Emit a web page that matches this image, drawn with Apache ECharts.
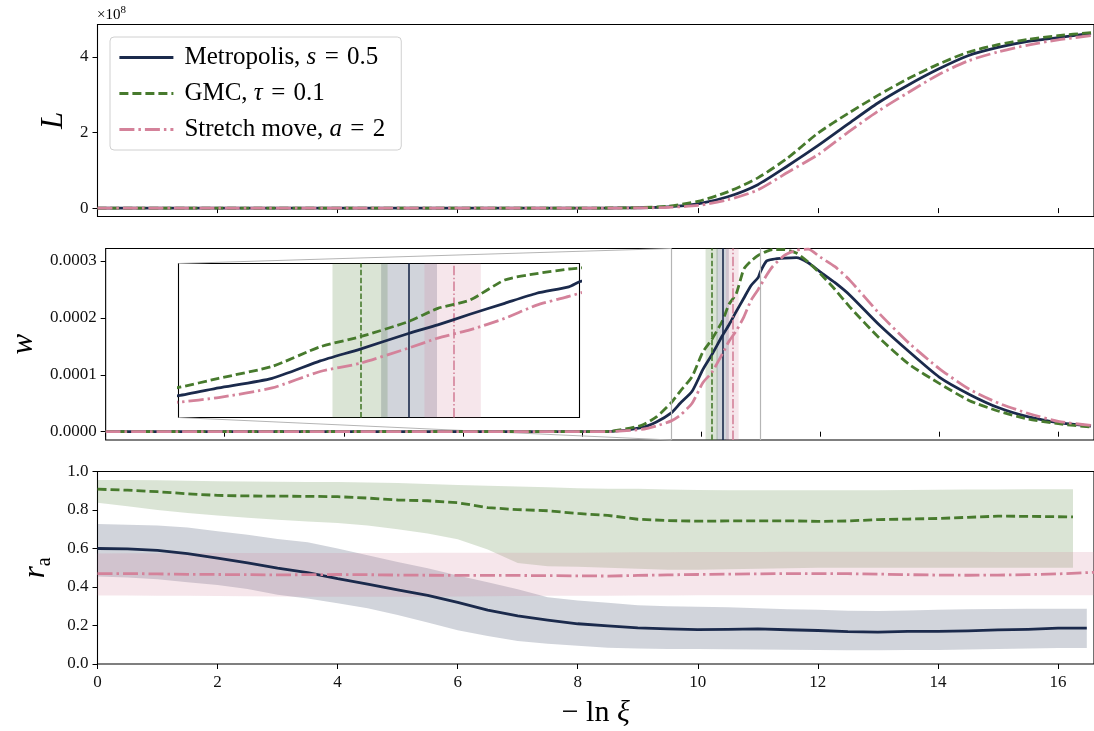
<!DOCTYPE html>
<html><head><meta charset="utf-8">
<script src="https://cdn.jsdelivr.net/npm/echarts@6/dist/echarts.min.js"></script>
<style>html,body{margin:0;padding:0;background:#fff}#c{width:1094px;height:731px}</style>
</head><body><div id="c"></div>
<script>
// ================= DATA =================
// x = -ln xi
const xTicks = [0, 2, 4, 6, 8, 10, 12, 14, 16];

// Panel 1: L (units of 1e8)
const L_x       = [0, 8, 8.5, 9, 9.5, 10, 10.5, 11, 11.5, 12, 12.5, 13, 13.5, 14, 14.5, 15, 15.5, 16, 16.55];
const L_metro   = [0, 0, 0.002, 0.008, 0.03, 0.11, 0.30, 0.62, 1.12, 1.65, 2.22, 2.78, 3.25, 3.67, 4.03, 4.25, 4.41, 4.51, 4.62];
const L_gmc     = [0, 0, 0.003, 0.012, 0.05, 0.18, 0.43, 0.80, 1.33, 1.98, 2.50, 2.98, 3.42, 3.80, 4.12, 4.32, 4.46, 4.56, 4.64];
const L_stretch = [0, 0, 0.001, 0.004, 0.02, 0.07, 0.22, 0.48, 0.95, 1.41, 2.00, 2.56, 3.05, 3.52, 3.89, 4.13, 4.31, 4.45, 4.56];
const L_ticks = [0, 2, 4];

// Panel 2: w (units of 1e-4)
const w_x       = [0, 8, 8.5, 9, 9.25, 9.5, 9.65, 9.85, 10.03, 10.18, 10.36, 10.47, 10.59, 10.72, 10.84, 10.96, 11.0, 11.1, 11.2, 11.4, 11.6, 11.8, 12.0, 12.25, 12.5, 13.0, 13.5, 14.0, 14.5, 15.0, 15.5, 16.0, 16.55];
const w_metro   = [0, 0, 0.005, 0.07, 0.17, 0.33, 0.50, 0.71, 1.09, 1.35, 1.69, 1.88, 2.11, 2.35, 2.57, 2.71, 2.82, 3.00, 3.03, 3.05, 3.06, 2.97, 2.81, 2.62, 2.40, 1.87, 1.40, 0.96, 0.66, 0.42, 0.26, 0.16, 0.10];
const w_gmc     = [0, 0, 0.010, 0.11, 0.26, 0.51, 0.71, 0.97, 1.40, 1.62, 1.95, 2.24, 2.42, 2.86, 3.00, 3.10, 3.12, 3.17, 3.20, 3.20, 3.14, 2.98, 2.78, 2.50, 2.19, 1.64, 1.18, 0.85, 0.55, 0.36, 0.22, 0.14, 0.08];
const w_stretch = [0, 0, 0.003, 0.04, 0.10, 0.19, 0.29, 0.50, 0.86, 1.04, 1.37, 1.59, 1.77, 2.02, 2.31, 2.50, 2.57, 2.75, 2.90, 3.10, 3.19, 3.21, 3.07, 2.90, 2.66, 2.07, 1.55, 1.11, 0.75, 0.50, 0.32, 0.18, 0.11];
const w_ticks = [0, 1, 2, 3];
// peak positions (vertical lines) and their uncertainty bands
const peak_center = { metro: 10.362, gmc: 10.177, stretch: 10.526 };
const peak_lo     = { metro: 10.258, gmc: 10.076, stretch: 10.420 };
const peak_hi     = { metro: 10.467, gmc: 10.282, stretch: 10.631 };
// zoomed region shown in the inset
const inset_x = [9.5, 11.0];

// Panel 3: acceptance rate r_a
const ra_x_metro = [0,0.5,1,1.5,2,2.5,3,3.5,4,4.5,5,5.5,6,6.5,7,7.5,8,8.5,9,9.5,10,10.5,11,11.5,12,12.5,13,13.5,14,14.5,15,15.5,16,16.48];
const ra_metro    = [0.600,0.598,0.590,0.573,0.550,0.525,0.498,0.475,0.443,0.415,0.385,0.357,0.320,0.280,0.250,0.228,0.209,0.198,0.188,0.182,0.179,0.180,0.182,0.178,0.174,0.168,0.166,0.170,0.170,0.172,0.177,0.180,0.186,0.186];
const ra_metro_hi = [0.727,0.724,0.720,0.709,0.690,0.672,0.650,0.632,0.600,0.565,0.530,0.497,0.460,0.425,0.388,0.347,0.330,0.318,0.305,0.300,0.297,0.295,0.290,0.285,0.282,0.276,0.275,0.278,0.282,0.284,0.286,0.287,0.287,0.287];
const ra_metro_lo = [0.455,0.450,0.440,0.425,0.410,0.390,0.360,0.340,0.315,0.290,0.255,0.215,0.175,0.145,0.120,0.105,0.095,0.085,0.080,0.078,0.078,0.077,0.075,0.074,0.073,0.072,0.072,0.073,0.073,0.075,0.078,0.080,0.083,0.083];

const ra_x_gmc = [0,0.5,1,1.5,2,2.5,3,3.5,4,4.5,5,5.5,6,6.5,7,7.5,8,8.5,9,9.5,10,10.5,11,11.5,12,12.5,13,13.5,14,14.5,15,15.5,16,16.25];
const ra_gmc    = [0.908,0.903,0.895,0.884,0.876,0.873,0.872,0.871,0.869,0.862,0.852,0.848,0.838,0.812,0.802,0.796,0.782,0.772,0.752,0.745,0.742,0.743,0.744,0.744,0.741,0.743,0.750,0.753,0.756,0.762,0.768,0.767,0.765,0.764];
const ra_gmc_hi = [0.956,0.956,0.955,0.952,0.950,0.948,0.947,0.946,0.945,0.943,0.940,0.935,0.930,0.926,0.922,0.918,0.913,0.911,0.910,0.907,0.904,0.903,0.902,0.902,0.902,0.902,0.903,0.904,0.905,0.906,0.907,0.908,0.908,0.908];
const ra_gmc_lo = [0.838,0.820,0.800,0.785,0.772,0.760,0.750,0.740,0.732,0.720,0.700,0.678,0.648,0.595,0.525,0.508,0.505,0.500,0.495,0.490,0.490,0.492,0.495,0.498,0.500,0.500,0.500,0.500,0.500,0.500,0.500,0.500,0.500,0.500];

const ra_x_stretch = [0,0.5,1,1.5,2,2.5,3,3.5,4,4.5,5,5.5,6,6.5,7,7.5,8,8.5,9,9.5,10,10.5,11,11.5,12,12.5,13,13.5,14,14.5,15,15.5,16,16.5,16.6];
const ra_stretch    = [0.470,0.470,0.468,0.466,0.465,0.464,0.463,0.464,0.465,0.464,0.462,0.461,0.460,0.460,0.460,0.459,0.458,0.457,0.460,0.463,0.465,0.467,0.468,0.470,0.470,0.469,0.467,0.464,0.462,0.461,0.462,0.464,0.468,0.475,0.476];
const ra_stretch_hi = [0.574,0.575,0.575,0.576,0.576,0.576,0.577,0.577,0.577,0.577,0.577,0.578,0.578,0.578,0.578,0.578,0.578,0.579,0.580,0.581,0.582,0.582,0.582,0.583,0.583,0.583,0.583,0.583,0.583,0.583,0.582,0.582,0.582,0.582,0.582];
const ra_stretch_lo = [0.356,0.356,0.355,0.354,0.353,0.352,0.351,0.350,0.350,0.350,0.350,0.350,0.351,0.352,0.353,0.354,0.355,0.355,0.356,0.356,0.357,0.357,0.357,0.357,0.357,0.357,0.357,0.357,0.357,0.357,0.357,0.357,0.357,0.357,0.357];
const ra_ticks = [0, 0.2, 0.4, 0.6, 0.8, 1.0];

// ================= STYLE =================
const C_M = '#1b2a4c', C_G = '#477a2d', C_S = '#d4829a', C_GRAY = '#b5b5b5';
const FONT = 'Liberation Serif';
const DASH = [9, 4], DASHDOT = [15, 4, 2.5, 4];
const X_MAX = 16.6;
const L_LIM = [-0.222, 4.855];
const W_LIM = [-0.146, 3.22];
const LW = 2.8;

const zip = (xs, ys) => xs.map((x, i) => [x, ys[i]]);
function rgba(hex, a) {
  const n = parseInt(hex.slice(1), 16);
  return 'rgba(' + (n >> 16) + ',' + ((n >> 8) & 255) + ',' + (n & 255) + ',' + a + ')';
}

const GRID_X = { left: 97.5, right: -4 };
const grids = [
  Object.assign({ top: 24.5, height: 192 }, GRID_X),
  Object.assign({ top: 248.5, height: 191.5 }, GRID_X),
  Object.assign({ top: 471.5, height: 192.5 }, GRID_X),
  { left: 178.5, top: 263.5, width: 401, height: 154 }
].map(g => Object.assign({ show: true, borderColor: '#000', borderWidth: 1.1, backgroundColor: 'transparent', containLabel: false }, g));

const labelStyle = { fontFamily: FONT, fontSize: 17, color: '#111' };
function xAxis(i, showLabels) {
  return {
    type: 'value', gridIndex: i, min: 0, max: X_MAX,
    axisLine: { show: false }, splitLine: { show: false },
    axisTick: { show: true, length: 5, customValues: xTicks, lineStyle: { color: '#000', width: 1 } },
    axisLabel: Object.assign({ show: showLabels, customValues: xTicks, margin: 10 }, labelStyle)
  };
}
const axStyle = { type: 'value', axisLine: { show: false }, splitLine: { show: false } };
const xAxes = [xAxis(0, false), xAxis(1, false), xAxis(2, true),
  { type: 'value', gridIndex: 3, min: inset_x[0], max: inset_x[1], show: false }];
xAxes[2].name = '{r|− ln }{i|ξ}';
xAxes[2].nameLocation = 'middle';
xAxes[2].nameGap = 34;
xAxes[2].nameTextStyle = { rich: {
  r: { fontFamily: FONT, fontSize: 30, color: '#000' },
  i: { fontFamily: FONT, fontSize: 30, fontStyle: 'italic', color: '#000' } } };

const nameStyle = { fontFamily: FONT, fontSize: 31, fontStyle: 'italic', color: '#000' };
const yAxes = [
  Object.assign({}, axStyle, { gridIndex: 0, min: L_LIM[0], max: L_LIM[1],
    axisTick: { show: true, length: 5, customValues: L_ticks, lineStyle: { color: '#000' } },
    axisLabel: Object.assign({ customValues: L_ticks, margin: 9, formatter: v => String(Math.round(v)) }, labelStyle),
    name: 'L', nameLocation: 'middle', nameRotate: 90, nameGap: 27, nameTextStyle: nameStyle }),
  Object.assign({}, axStyle, { gridIndex: 1, min: W_LIM[0], max: W_LIM[1],
    axisTick: { show: true, length: 5, customValues: w_ticks, lineStyle: { color: '#000' } },
    axisLabel: Object.assign({ customValues: w_ticks, margin: 9, formatter: v => (v / 10000).toFixed(4) }, labelStyle),
    name: 'w', nameLocation: 'middle', nameRotate: 90, nameGap: 50, nameTextStyle: nameStyle }),
  Object.assign({}, axStyle, { gridIndex: 2, min: 0, max: 1,
    axisTick: { show: true, length: 5, customValues: ra_ticks, lineStyle: { color: '#000' } },
    axisLabel: Object.assign({ customValues: ra_ticks, margin: 9, formatter: v => v.toFixed(1) }, labelStyle),
    name: '{i|r}{s|a}', nameLocation: 'middle', nameRotate: 90, nameGap: 47,
    nameTextStyle: { rich: {
      i: { fontFamily: FONT, fontSize: 31, fontStyle: 'italic', color: '#000', lineHeight: 30, verticalAlign: 'top' },
      s: { fontFamily: FONT, fontSize: 20, color: '#000', lineHeight: 20, padding: [14, 0, 0, 0], verticalAlign: 'top' } } } }),
  { type: 'value', gridIndex: 3, min: W_LIM[0], max: W_LIM[1], show: false }
];

const methods = [
  { key: 'metro', color: C_M, dash: 'solid', vdash: 'solid' },
  { key: 'gmc', color: C_G, dash: DASH, vdash: [5.5, 2.4] },
  { key: 'stretch', color: C_S, dash: DASHDOT, vdash: [9.5, 2.4, 1.5, 2.4] }
];
const Ldata = { metro: L_metro, gmc: L_gmc, stretch: L_stretch };
const Wdata = { metro: w_metro, gmc: w_gmc, stretch: w_stretch };
const RA = {
  metro: [ra_x_metro, ra_metro, ra_metro_lo, ra_metro_hi],
  gmc: [ra_x_gmc, ra_gmc, ra_gmc_lo, ra_gmc_hi],
  stretch: [ra_x_stretch, ra_stretch, ra_stretch_lo, ra_stretch_hi]
};

function lineS(name, gi, data, m, z, smooth) {
  return { type: 'line', name, xAxisIndex: gi, yAxisIndex: gi, data, symbol: 'none', showSymbol: false,
    smooth: smooth || false,
    silent: true, z, lineStyle: { color: m.color, width: LW, type: m.dash, cap: 'butt', join: 'round' },
    itemStyle: { color: m.color } };
}

const series = [];
// shaded bands in r_a panel, drawn as polygons through the axes
methods.forEach(m => {
  const [xs, , lo, hi] = RA[m.key];
  series.push({
    type: 'custom', name: m.key + '_band', xAxisIndex: 2, yAxisIndex: 2, silent: true, z: 1, clip: true,
    data: xs.map((x, i) => [x, lo[i], hi[i]]),
    encode: { x: 0, y: [1, 2] },
    renderItem: (params, api) => {
      if (params.dataIndex !== 0) return null;
      const pts = [];
      for (let i = 0; i < xs.length; i++) pts.push(api.coord([xs[i], hi[i]]));
      for (let i = xs.length - 1; i >= 0; i--) pts.push(api.coord([xs[i], lo[i]]));
      return { type: 'polygon', shape: { points: pts }, style: { fill: rgba(m.color, 0.2) } };
    }
  });
});
// inset frame (rectangle sides on w panel)
series.push({ type: 'line', name: 'insetFrame', xAxisIndex: 1, yAxisIndex: 1, data: [], silent: true, z: 2,
  markLine: { silent: true, symbol: 'none', label: { show: false }, animation: false,
    lineStyle: { color: C_GRAY, width: 1.2, type: 'solid' }, data: inset_x.map(v => ({ xAxis: v })) } });

methods.forEach((m, k) => {
  series.push(lineS(m.key, 0, zip(L_x, Ldata[m.key]), m, 3 + k, 0.25));
  const marks = (width) => ({
    markArea: { silent: true, itemStyle: { color: rgba(m.color, 0.2) }, label: { show: false },
      data: [[{ xAxis: peak_lo[m.key] }, { xAxis: peak_hi[m.key] }]] },
    markLine: { silent: true, symbol: 'none', label: { show: false },
      lineStyle: { color: m.color, width, type: m.vdash }, data: [{ xAxis: peak_center[m.key] }] }
  });
  series.push(Object.assign(lineS(m.key + '_w', 1, zip(w_x, Wdata[m.key]), m, 3 + k, 0.2), marks(1.6)));
  series.push(Object.assign(lineS(m.key + '_inset', 3, zip(w_x, Wdata[m.key]), m, 10 + k, 0.2), marks(1.6)));
  series.push(lineS(m.key + '_ra', 2, zip(RA[m.key][0], RA[m.key][1]), m, 3 + k));
});

const SP = '\u2004';
const legendText = {
  metro: '{sp|}{n|Metropolis, }{m|s}{n|' + SP + '=' + SP + '0.5}',
  gmc: '{sp|}{n|GMC, }{m|τ}{n|' + SP + '=' + SP + '0.1}',
  stretch: '{sp|}{n|Stretch move, }{m|a}{n|' + SP + '=' + SP + '2}'
};

const option = {
  animation: false,
  backgroundColor: '#fff',
  grid: grids,
  xAxis: xAxes,
  yAxis: yAxes,
  legend: {
    data: ['metro', 'gmc', 'stretch'], orient: 'vertical', left: 110, top: 37,
    padding: [8, 16, 8, 8], itemWidth: 54, itemHeight: 14, itemGap: 11,
    itemStyle: { opacity: 0 }, lineStyle: { width: LW },
    backgroundColor: 'rgba(255,255,255,0.85)', borderColor: '#d0d0d0', borderWidth: 1, borderRadius: 4,
    formatter: n => legendText[n], selectedMode: false,
    textStyle: { fontFamily: FONT, fontSize: 25, color: '#000', rich: {
      sp: { width: 6 },
      n: { fontFamily: FONT, fontSize: 25, color: '#000' },
      m: { fontFamily: FONT, fontSize: 25, fontStyle: 'italic', color: '#000' } } }
  },
  series
};

const chart = echarts.init(document.getElementById('c'));
chart.setOption(option);

// connector lines between inset and zoomed rectangle (computed through axes)
const insTop = chart.convertToPixel({ xAxisIndex: 3, yAxisIndex: 3 }, [inset_x[0], W_LIM[1]]);
const insBot = chart.convertToPixel({ xAxisIndex: 3, yAxisIndex: 3 }, [inset_x[0], W_LIM[0]]);
const recTop = chart.convertToPixel({ xAxisIndex: 1, yAxisIndex: 1 }, [inset_x[0], W_LIM[1]]);
const recBot = chart.convertToPixel({ xAxisIndex: 1, yAxisIndex: 1 }, [inset_x[0], W_LIM[0]]);
chart.setOption({
  graphic: [
    { type: 'line', z: 1, silent: true, shape: { x1: insTop[0], y1: insTop[1], x2: recTop[0], y2: recTop[1] }, style: { stroke: C_GRAY, lineWidth: 1.2 } },
    { type: 'line', z: 1, silent: true, shape: { x1: insBot[0], y1: insBot[1], x2: recBot[0], y2: recBot[1] }, style: { stroke: C_GRAY, lineWidth: 1.2 } },
    { type: 'text', left: 97, top: 2, silent: true, style: { text: '{a|×10}{b|8}', rich: {
      a: { fontFamily: FONT, fontSize: 15, color: '#000', lineHeight: 15, padding: [6, 0, 0, 0], verticalAlign: 'top' },
      b: { fontFamily: FONT, fontSize: 11, color: '#000', lineHeight: 11, padding: [3, 0, 0, 0], verticalAlign: 'top' } } } }
  ]
});
</script>
</body></html>
